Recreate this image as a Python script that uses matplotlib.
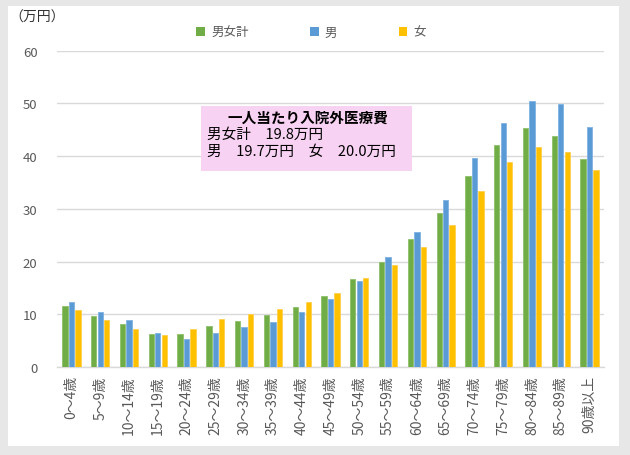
import matplotlib.pyplot as plt
from matplotlib.patches import Patch, Rectangle
import numpy as np

plt.rcParams['font.family'] = ['Noto Sans CJK JP', 'DejaVu Sans']

ages = ['0～4歳', '5～9歳', '10～14歳', '15～19歳', '20～24歳', '25～29歳',
        '30～34歳', '35～39歳', '40～44歳', '45～49歳', '50～54歳', '55～59歳',
        '60～64歳', '65～69歳', '70～74歳', '75～79歳', '80～84歳', '85～89歳',
        '90歳以上']
total = [11.5, 9.7, 8.1, 6.3, 6.3, 7.7, 8.8, 9.9, 11.3, 13.4, 16.6, 20.0,
         24.2, 29.2, 36.3, 42.1, 45.3, 43.9, 39.4]
male = [12.3, 10.4, 8.9, 6.4, 5.4, 6.4, 7.5, 8.6, 10.4, 12.9, 16.4, 20.8,
        25.7, 31.6, 39.6, 46.3, 50.4, 49.8, 45.5]
female = [10.8, 8.9, 7.2, 6.1, 7.2, 9.1, 10.1, 11.0, 12.3, 14.1, 16.9, 19.3,
          22.7, 26.9, 33.3, 38.8, 41.7, 40.7, 37.3]
series_names = ['男女計', '男', '女']
colors = ['#70AD47', '#5B9BD5', '#FFC000']
edges = ['#8cc06a', '#7fb2e0', '#ffd04d']

W, H = 630, 456
def px(x, y):
    return x / W, 1 - y / H

fig = plt.figure(figsize=(W / 100, H / 100), dpi=100)
fig.patch.set_facecolor('#e7e7e7')
fig.patches.append(Rectangle(px(8, 447), 611 / W, 440 / H, transform=fig.transFigure,
                             facecolor='white', edgecolor='none', zorder=-5))

l, t = px(57, 51.7)
r, b = px(604, 368)
ax = fig.add_axes([l, b, r - l, t - b])
ax.set_facecolor('none')

x = np.arange(len(ages))
bw = 0.185
off = 0.225
for k, vals in enumerate([total, male, female]):
    ax.bar(x + (k - 1) * off, vals, bw, color=colors[k], edgecolor=edges[k],
           linewidth=0.6, zorder=3)

ax.set_xlim(-0.5, len(ages) - 0.5)
ax.set_ylim(0, 60)
ax.set_yticks(range(0, 61, 10))
ax.set_axisbelow(True)
ax.yaxis.grid(True, color='#d9d9d9', linewidth=1.0)
for s in ['top', 'right', 'left']:
    ax.spines[s].set_visible(False)
ax.spines['bottom'].set_color('#d9d9d9')
ax.spines['bottom'].set_linewidth(1.0)
ax.set_xticks(x)
ax.set_xticklabels(ages, rotation=90)
ax.tick_params(axis='both', length=0, colors='#595959')
ax.tick_params(axis='y', pad=14, labelsize=9.5)
ax.tick_params(axis='x', pad=6, labelsize=10)

fig.text(*px(9, 18), '（万円）', fontsize=10, color='#333333', ha='left', va='center')

handles = [Patch(facecolor=c, edgecolor='none') for c in colors]
fig.legend(handles, series_names, loc='center', bbox_to_anchor=px(311, 33),
           ncol=3, frameon=False, fontsize=9, labelcolor='#595959',
           handlelength=0.7, handleheight=0.7, handletextpad=0.5,
           columnspacing=4.9)

# annotation box
fig.patches.append(Rectangle(px(201, 172), 211 / W, 65 / H, transform=fig.transFigure,
                             facecolor='#f8d2f2', edgecolor='none', zorder=5))
fig.text(*px(308, 118), '一人当たり入院外医療費', fontsize=10.5, fontweight='bold',
         ha='center', va='center', zorder=6)
fig.text(*px(207, 135), '男女計　19.8万円', fontsize=10.5, ha='left', va='center', zorder=6)
fig.text(*px(207, 152), '男　19.7万円　女　20.0万円', fontsize=10.5, ha='left',
         va='center', zorder=6)

fig.savefig('out.png', dpi=100)
